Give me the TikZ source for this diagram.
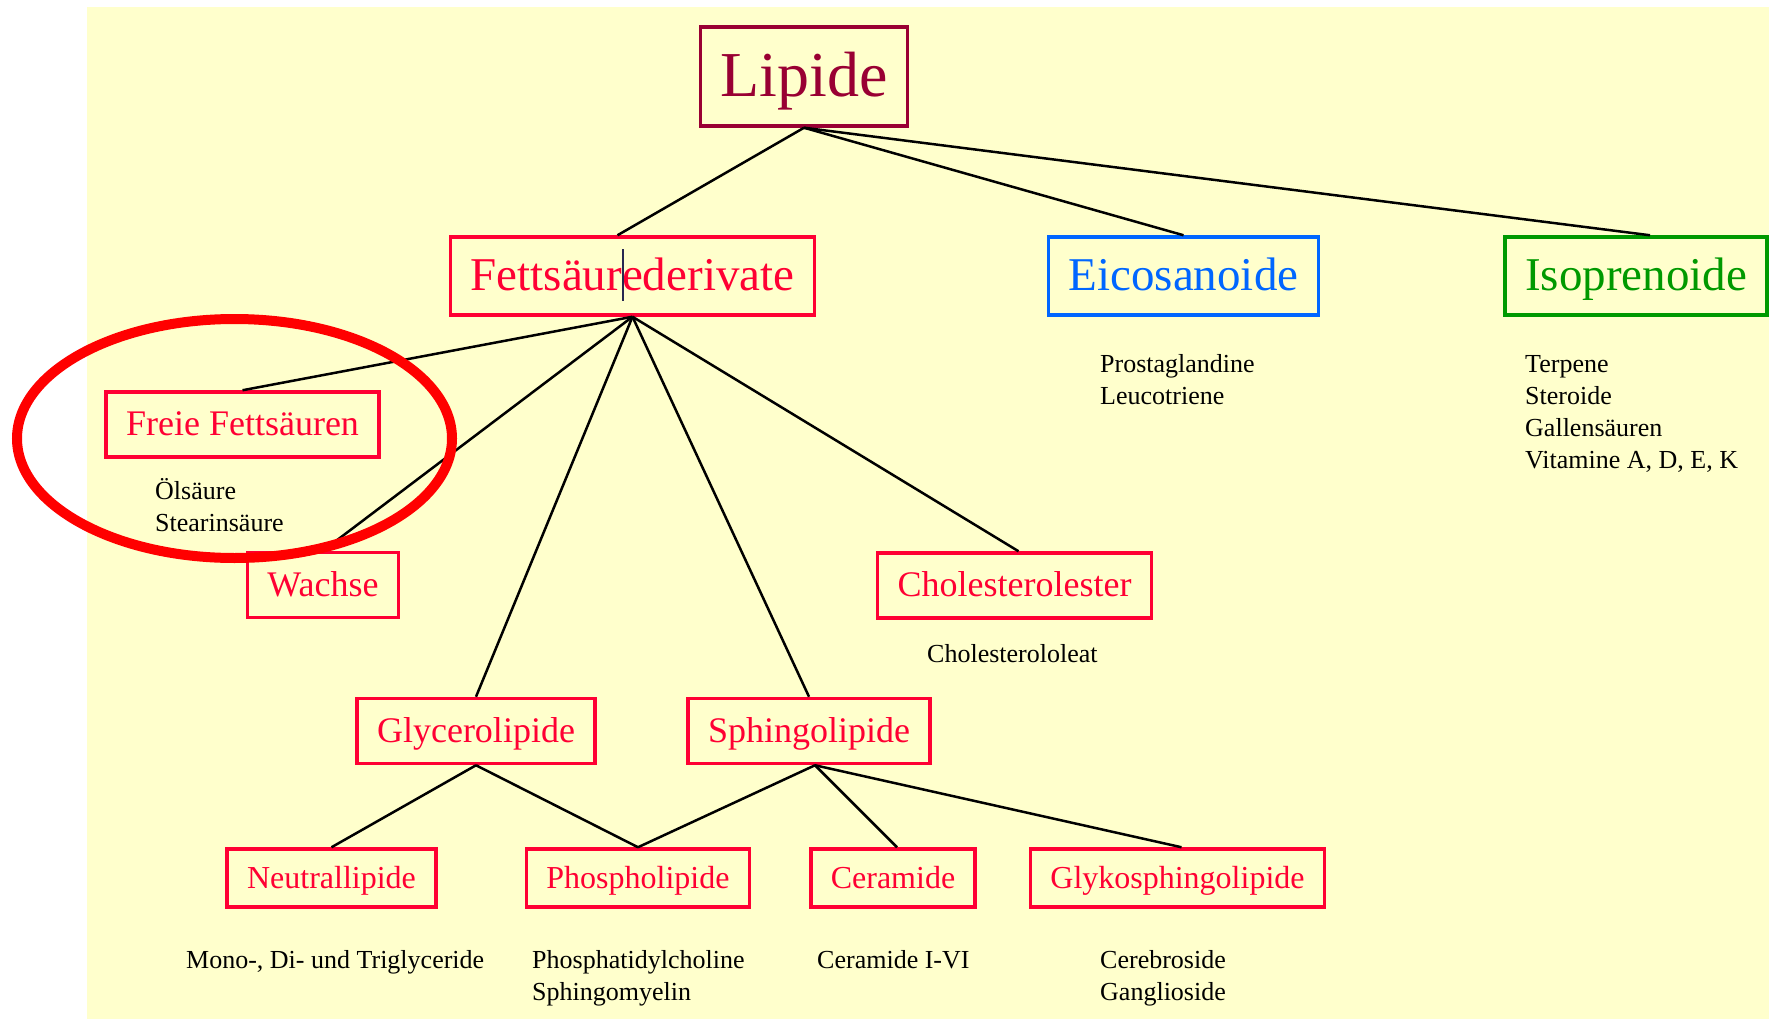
\documentclass[tikz,border=0pt]{standalone}
\usepackage{fontspec}
\setmainfont{Liberation Serif}
\usepackage{tikz}
\definecolor{bgyellow}{RGB}{255,255,204}
\definecolor{lipred}{RGB}{153,0,51}
\definecolor{boxred}{RGB}{255,0,51}
\definecolor{eicoblue}{RGB}{0,102,255}
\definecolor{isogreen}{RGB}{0,153,0}
\definecolor{cursorgray}{RGB}{40,40,80}
\tikzset{
  catbox/.style={draw,line width=3.5pt,inner xsep=20pt,inner ysep=0pt},
  toplevel/.style={catbox,draw=lipred,text=lipred,font=\fontsize{64}{70}\selectfont,
    text height=51pt,text depth=11pt,minimum height=99pt},
  grouplevel/.style={catbox,font=\fontsize{47}{52}\selectfont,
    text height=37.6pt,text depth=8pt,minimum height=78pt},
  classlevel/.style={catbox,draw=boxred,text=boxred,font=\fontsize{36}{40}\selectfont,
    text height=28.8pt,text depth=6.1pt,minimum height=65pt},
  sublevel/.style={catbox,draw=boxred,text=boxred,font=\fontsize{32}{36}\selectfont,
    text height=25.6pt,text depth=5.4pt,minimum height=58pt},
  examples/.style={anchor=base west,align=left,inner sep=0pt,font=\fontsize{26}{32}\selectfont},
  link/.style={line width=2.5pt}
}

\begin{document}
\begin{tikzpicture}[x=1pt,y=-1pt]
  \useasboundingbox (0,0) rectangle (1769,1019);
  \fill[bgyellow] (87,7) rectangle (1769,1019);

  \node[toplevel] (lip) at (804,76.5) {Lipide};
  \node[grouplevel,draw=boxred,text=boxred] (fsd) at (632.5,276) {Fettsäurederivate};
  \node[grouplevel,draw=eicoblue,text=eicoblue] (eico) at (1183.5,276) {Eicosanoide};
  \node[grouplevel,draw=isogreen,text=isogreen] (iso) at (1636,276) {Isoprenoide};

  \node[classlevel] (ffs) at (242.5,424.5) {Freie Fettsäuren};
  \node[classlevel] (wax) at (323,585) {Wachse};
  \node[classlevel] (chol) at (1014.5,585.5) {Cholesterolester};
  \node[classlevel] (gly) at (476,731) {Glycerolipide};
  \node[classlevel] (sph) at (809,731) {Sphingolipide};

  \node[sublevel] (neu) at (331.5,878) {Neutrallipide};
  \node[sublevel] (pho) at (638,878) {Phospholipide};
  \node[sublevel] (cer) at (893,878) {Ceramide};
  \node[sublevel] (gsl) at (1177.5,878) {Glykosphingolipide};

  \node[examples] (eicoex) at (1100,404) {Prostaglandine\\Leucotriene};
  \node[examples] (isoex) at (1525,468) {Terpene\\Steroide\\Gallensäuren\\Vitamine A, D, E, K};
  \node[examples] (ffsex) at (155,531) {Ölsäure\\Stearinsäure};
  \node[examples] (cholex) at (927,662) {Cholesterololeat};
  \node[examples] (neuex) at (186,968) {Mono-, Di- und Triglyceride};
  \node[examples] (phoex) at (532,1000) {Phosphatidylcholine\\Sphingomyelin};
  \node[examples] (cerex) at (817,968) {Ceramide I-VI};
  \node[examples] (gslex) at (1100,1000) {Cerebroside\\Ganglioside};

  \draw[link] (lip.south) -- ([xshift=-15pt]fsd.north);
  \draw[link] (lip.south) -- (eico.north);
  \draw[link] (lip.south) -- ([xshift=14pt]iso.north);
  \draw[link] (fsd.south) -- (ffs.north);
  \draw[link] (fsd.south) -- (wax.north);
  \draw[link] (fsd.south) -- (gly.north);
  \draw[link] (fsd.south) -- (sph.north);
  \draw[link] (fsd.south) -- ([xshift=4pt]chol.north);
  \draw[link] (gly.south) -- (neu.north);
  \draw[link] (gly.south) -- (pho.north);
  \draw[link] ([xshift=6pt]sph.south) -- (pho.north);
  \draw[link] ([xshift=6pt]sph.south) -- ([xshift=4pt]cer.north);
  \draw[link] ([xshift=6pt]sph.south) -- ([xshift=4pt]gsl.north);

  \draw[cursorgray,line width=1.2pt] (623,249) -- (623,301);
  \draw[red,line width=10pt] (234.5,438.5) ellipse [x radius=217.5pt,y radius=119.5pt];
\end{tikzpicture}
\end{document}
